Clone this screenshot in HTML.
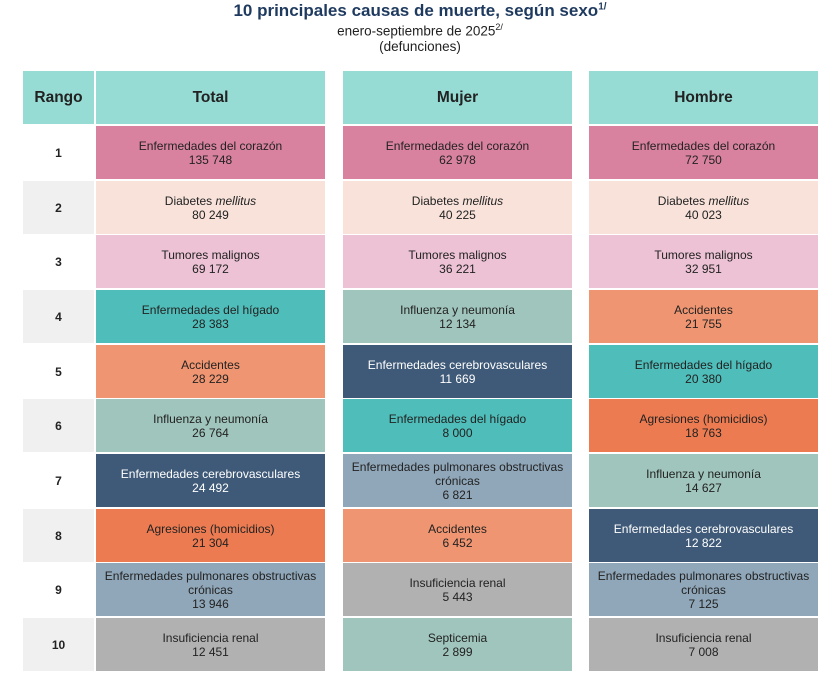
<!DOCTYPE html>
<html><head><meta charset="utf-8"><style>
body{margin:0;width:840px;height:680px;background:#fff;font-family:"Liberation Sans",Arial,sans-serif;position:relative;overflow:hidden}
.t{position:absolute;left:0;width:840px;text-align:center;color:#222}
.c{position:absolute;display:flex;align-items:center;justify-content:center;text-align:center;font-size:12px;line-height:14px;color:#222;height:53px}
.r{left:23px;width:71px;font-weight:bold;font-size:12px}
.h{background:#96dcd5;font-weight:bold;font-size:15.5px;top:71px;height:53px}
.g{background:#f0f0f0}
.T{left:96px;width:229px}.M{left:343px;width:229px}.H{left:589px;width:229px}
.a{background:#d9829f}.b{background:#f8e2da}.d{background:#ecc2d4}.e{background:#4fbdb9}.f{background:#ef9571}.i{background:#a0c5bc}.k{background:#3f5a78;color:#fff}.l{background:#ec7b51}.p{background:#90a7b9}.n{background:#b1b1b1}
</style></head><body>
<div class="t" style="top:1px;font-size:17px;font-weight:bold;color:#1f3a5f">10 principales causas de muerte, según sexo<sup style="font-size:10px">1/</sup></div>
<div class="t" style="top:22px;font-size:13.5px">enero-septiembre de 2025<sup style="font-size:9px">2/</sup></div>
<div class="t" style="top:39px;font-size:13.5px">(defunciones)</div>

<div class="c r h">Rango</div><div class="c h T">Total</div><div class="c h M">Mujer</div><div class="c h H">Hombre</div>

<div class="c r" style="top:126px">1</div>
<div class="c r g" style="top:181px">2</div>
<div class="c r" style="top:235px">3</div>
<div class="c r g" style="top:290px">4</div>
<div class="c r" style="top:345px">5</div>
<div class="c r g" style="top:399px">6</div>
<div class="c r" style="top:454px">7</div>
<div class="c r g" style="top:509px">8</div>
<div class="c r" style="top:563px">9</div>
<div class="c r g" style="top:618px">10</div>

<div class="c T a" style="top:126px"><div>Enfermedades del corazón<br>135 748</div></div>
<div class="c T b" style="top:181px"><div>Diabetes <i>mellitus</i><br>80 249</div></div>
<div class="c T d" style="top:235px"><div>Tumores malignos<br>69 172</div></div>
<div class="c T e" style="top:290px"><div>Enfermedades del hígado<br>28 383</div></div>
<div class="c T f" style="top:345px"><div>Accidentes<br>28 229</div></div>
<div class="c T i" style="top:399px"><div>Influenza y neumonía<br>26 764</div></div>
<div class="c T k" style="top:454px"><div>Enfermedades cerebrovasculares<br>24 492</div></div>
<div class="c T l" style="top:509px"><div>Agresiones (homicidios)<br>21 304</div></div>
<div class="c T p" style="top:563px"><div>Enfermedades pulmonares obstructivas<br>crónicas<br>13 946</div></div>
<div class="c T n" style="top:618px"><div>Insuficiencia renal<br>12 451</div></div>

<div class="c M a" style="top:126px"><div>Enfermedades del corazón<br>62 978</div></div>
<div class="c M b" style="top:181px"><div>Diabetes <i>mellitus</i><br>40 225</div></div>
<div class="c M d" style="top:235px"><div>Tumores malignos<br>36 221</div></div>
<div class="c M i" style="top:290px"><div>Influenza y neumonía<br>12 134</div></div>
<div class="c M k" style="top:345px"><div>Enfermedades cerebrovasculares<br>11 669</div></div>
<div class="c M e" style="top:399px"><div>Enfermedades del hígado<br>8 000</div></div>
<div class="c M p" style="top:454px"><div>Enfermedades pulmonares obstructivas<br>crónicas<br>6 821</div></div>
<div class="c M f" style="top:509px"><div>Accidentes<br>6 452</div></div>
<div class="c M n" style="top:563px"><div>Insuficiencia renal<br>5 443</div></div>
<div class="c M i" style="top:618px"><div>Septicemia<br>2 899</div></div>

<div class="c H a" style="top:126px"><div>Enfermedades del corazón<br>72 750</div></div>
<div class="c H b" style="top:181px"><div>Diabetes <i>mellitus</i><br>40 023</div></div>
<div class="c H d" style="top:235px"><div>Tumores malignos<br>32 951</div></div>
<div class="c H f" style="top:290px"><div>Accidentes<br>21 755</div></div>
<div class="c H e" style="top:345px"><div>Enfermedades del hígado<br>20 380</div></div>
<div class="c H l" style="top:399px"><div>Agresiones (homicidios)<br>18 763</div></div>
<div class="c H i" style="top:454px"><div>Influenza y neumonía<br>14 627</div></div>
<div class="c H k" style="top:509px"><div>Enfermedades cerebrovasculares<br>12 822</div></div>
<div class="c H p" style="top:563px"><div>Enfermedades pulmonares obstructivas<br>crónicas<br>7 125</div></div>
<div class="c H n" style="top:618px"><div>Insuficiencia renal<br>7 008</div></div>
</body></html>
